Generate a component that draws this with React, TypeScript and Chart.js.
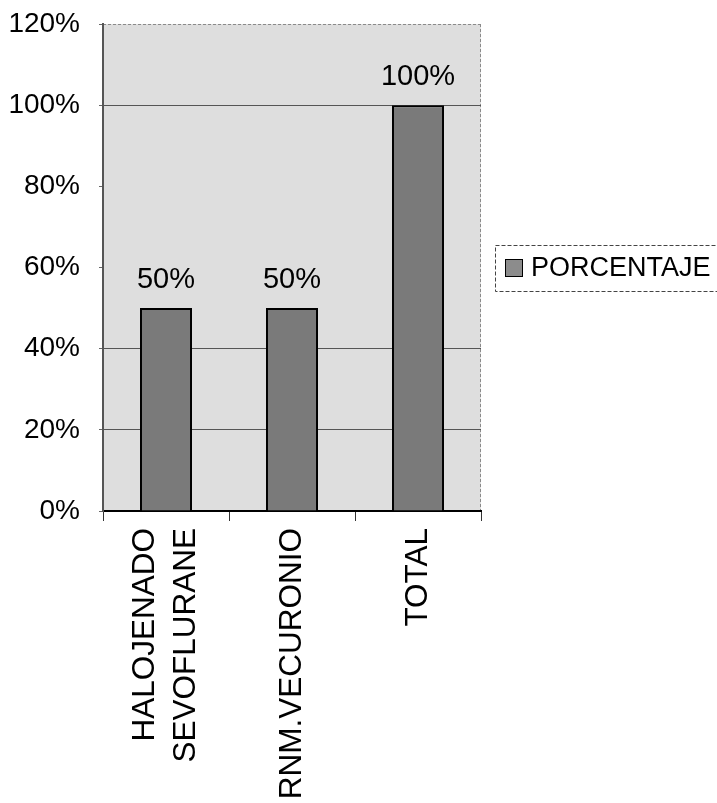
import React, { useEffect, useRef } from 'react';
import { Chart, registerables } from 'chart.js';
Chart.register(...registerables);

const categories: (string | string[])[] = [['HALOJENADO', 'SEVOFLURANE'], 'RNM.VECURONIO', 'TOTAL'];
const seriesName = 'PORCENTAJE';
const values = [0.5, 0.5, 1.0];
const yMin = 0;
const yMax = 1.2;
const yStep = 0.2;
const visibleGridPct = [20, 40, 100];

const FONT = 'Arial, "Liberation Sans", sans-serif';

const pct = (v: number) => `${Math.round(v * 100)}%`;

export default function App() {
  const ref = useRef<HTMLCanvasElement | null>(null);

  useEffect(() => {
    const canvas = ref.current;
    if (!canvas) return;

    const bgPlugin = {
      id: 'bgPlugin',
      beforeDraw(chart: any) {
        const { ctx, chartArea } = chart;
        ctx.save();
        ctx.fillStyle = '#ffffff';
        ctx.fillRect(0, 0, chart.width, chart.height);
        ctx.fillStyle = '#dedede';
        ctx.fillRect(chartArea.left, chartArea.top, chartArea.right - chartArea.left, chartArea.bottom - chartArea.top);
        ctx.strokeStyle = '#8a8a8a';
        ctx.lineWidth = 1;
        ctx.setLineDash([3, 2]);
        ctx.beginPath();
        ctx.moveTo(chartArea.left, chartArea.top + 0.5);
        ctx.lineTo(chartArea.right, chartArea.top + 0.5);
        ctx.moveTo(chartArea.right - 0.5, chartArea.top);
        ctx.lineTo(chartArea.right - 0.5, chartArea.bottom);
        ctx.stroke();
        ctx.restore();
      },
    };

    const labelPlugin = {
      id: 'labelPlugin',
      afterDatasetsDraw(chart: any) {
        const { ctx } = chart;
        const meta = chart.getDatasetMeta(0);
        ctx.save();
        ctx.font = `29px ${FONT}`;
        ctx.fillStyle = '#000';
        ctx.textAlign = 'center';
        ctx.textBaseline = 'alphabetic';
        meta.data.forEach((bar: any, i: number) => {
          ctx.fillText(pct(values[i]), bar.x, bar.y - 20);
        });
        ctx.restore();
      },
    };

    const catLabelPlugin = {
      id: 'catLabelPlugin',
      afterDraw(chart: any) {
        const { ctx, chartArea } = chart;
        const xs = chart.scales.x;
        const lineH = 41;
        ctx.save();
        ctx.font = `31.5px ${FONT}`;
        ctx.fillStyle = '#000';
        ctx.textAlign = 'right';
        ctx.textBaseline = 'middle';
        categories.forEach((c, i) => {
          const lines = Array.isArray(c) ? c : [c];
          const cx = xs.getPixelForTick(i);
          lines.forEach((ln, j) => {
            const x = cx + (j - (lines.length - 1) / 2) * lineH;
            ctx.save();
            ctx.translate(x, chartArea.bottom + 17);
            ctx.rotate(-Math.PI / 2);
            ctx.fillText(ln, 0, 0);
            ctx.restore();
          });
        });
        ctx.restore();
      },
    };

    const legendPlugin = {
      id: 'legendPlugin',
      afterDraw(chart: any) {
        const { ctx, chartArea } = chart;
        const x0 = chartArea.right + 14;
        const y0 = chartArea.top + 221;
        ctx.save();
        ctx.strokeStyle = '#444';
        ctx.lineWidth = 1;
        ctx.setLineDash([4, 2]);
        ctx.strokeRect(x0 + 0.5, y0 + 0.5, 260, 46);
        ctx.setLineDash([]);
        ctx.fillStyle = '#8c8c8c';
        ctx.fillRect(x0 + 10, y0 + 14, 18, 18);
        ctx.strokeStyle = '#000';
        ctx.strokeRect(x0 + 10.5, y0 + 14.5, 17, 17);
        ctx.fillStyle = '#000';
        ctx.font = `27px ${FONT}`;
        ctx.textAlign = 'left';
        ctx.textBaseline = 'middle';
        ctx.fillText(seriesName, x0 + 36, y0 + 24);
        ctx.restore();
      },
    };

    const chart = new Chart(canvas, {
      type: 'bar',
      data: {
        labels: categories,
        datasets: [
          {
            label: seriesName,
            data: values,
            backgroundColor: '#7a7a7a',
            borderColor: '#000',
            borderWidth: 2,
            categoryPercentage: 1,
            barPercentage: 0.413,
          },
        ],
      },
      options: {
        animation: false,
        responsive: false,
        devicePixelRatio: 1,
        layout: { padding: { top: 24, right: 236, left: 0, bottom: 0 } },
        plugins: {
          legend: { display: false },
          tooltip: { enabled: false },
        },
        scales: {
          x: {
            offset: true,
            afterFit(scale: any) {
              scale.height = 292;
              scale.paddingLeft = 0;
              scale.paddingRight = 0;
            },
            grid: {
              offset: true,
              drawOnChartArea: false,
              drawTicks: true,
              tickLength: 10,
              color: '#333',
            },
            border: { display: true, color: '#000', width: 2 },
            ticks: {
              display: false,
              autoSkip: false,
            },
          },
          y: {
            min: yMin,
            max: yMax,
            afterFit(scale: any) {
              scale.width = 103;
              scale.paddingTop = 0;
              scale.paddingBottom = 0;
            },
            grid: {
              color: (ctx: any) => {
                const v = Math.round((ctx.tick?.value ?? 0) * 100);
                return visibleGridPct.includes(v) ? '#555' : 'rgba(0,0,0,0)';
              },
              tickColor: '#666',
              tickLength: 4,
              lineWidth: 1,
            },
            border: { display: true, color: '#555', width: 2 },
            ticks: {
              stepSize: yStep,
              padding: 19,
              color: '#000',
              font: { family: FONT, size: 28 },
              callback: (v: any) => pct(Number(v)),
            },
          },
        },
      },
      plugins: [bgPlugin, labelPlugin, catLabelPlugin, legendPlugin],
    });

    return () => chart.destroy();
  }, []);

  return (
    <div style={{ position: 'absolute', left: 0, top: 0, width: 717, height: 803, background: '#fff' }}>
      <canvas ref={ref} width={717} height={803} style={{ display: 'block' }} />
    </div>
  );
}
